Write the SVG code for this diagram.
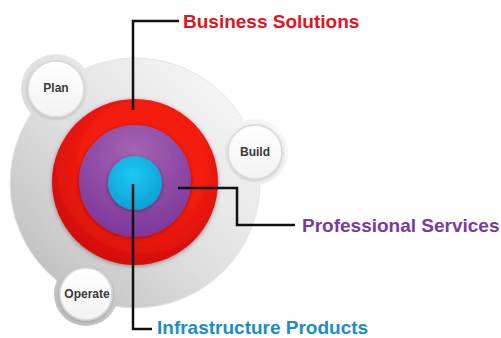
<svg xmlns="http://www.w3.org/2000/svg" width="501" height="338" viewBox="0 0 501 338">
<defs>
<linearGradient id="greyG" gradientUnits="userSpaceOnUse" x1="20" y1="290" x2="250" y2="70">
<stop offset="0" stop-color="#bcbcbc"/>
<stop offset="0.45" stop-color="#dedede"/>
<stop offset="1" stop-color="#fafafa"/>
</linearGradient>
<linearGradient id="whiteG" x1="0" y1="0" x2="0" y2="1">
<stop offset="0" stop-color="#ffffff"/>
<stop offset="1" stop-color="#f3f3f3"/>
</linearGradient>
<radialGradient id="redG" cx="0.55" cy="0.4" r="0.6">
<stop offset="0.6" stop-color="#f41c10"/>
<stop offset="1" stop-color="#d40d0d"/>
</radialGradient>
<radialGradient id="purpleG" cx="0.5" cy="0.25" r="0.8">
<stop offset="0" stop-color="#a564b2"/>
<stop offset="1" stop-color="#7a349a"/>
</radialGradient>
<radialGradient id="cyanG" cx="0.45" cy="0.35" r="0.7">
<stop offset="0" stop-color="#1ec8f2"/>
<stop offset="1" stop-color="#0a9fd6"/>
</radialGradient>
<filter id="sh" x="-20%" y="-20%" width="140%" height="140%">
<feDropShadow dx="0" dy="1" stdDeviation="2" flood-color="#000" flood-opacity="0.35"/>
</filter>
<filter id="shs" x="-20%" y="-20%" width="140%" height="140%">
<feDropShadow dx="0" dy="1" stdDeviation="1.5" flood-color="#000" flood-opacity="0.2"/>
</filter>
</defs>
<style>
.lbl{font-family:"Liberation Sans",Arial,sans-serif;font-weight:bold;font-size:19px}
.small{font-family:"Liberation Sans",Arial,sans-serif;font-weight:bold;font-size:12px;fill:#3a3a3a;text-anchor:middle}
.conn{fill:none;stroke:#111;stroke-width:2.5}
.grey{fill:url(#greyG)}
.inner{fill:url(#whiteG);stroke:#d8d8d8;stroke-width:1.5}
</style>
<rect width="501" height="338" fill="#ffffff"/>
<g id="base">
<circle class="grey" cx="135" cy="183" r="125" stroke="#e6e6e6" stroke-width="1"/>
<circle class="grey" cx="56" cy="89" r="35"/>
<circle class="grey" cx="255" cy="152" r="33"/>
<circle class="grey" cx="86" cy="294" r="32"/>
</g>
<g id="plan">
<circle class="inner" cx="56" cy="89" r="28" filter="url(#shs)"/>
<text class="small" x="56" y="92">Plan</text>
</g>
<g id="build">
<circle class="inner" cx="255" cy="152" r="27" filter="url(#shs)"/>
<text class="small" x="255" y="156">Build</text>
</g>
<g id="operate">
<circle class="inner" cx="86" cy="294" r="26" filter="url(#shs)"/>
<text class="small" x="87" y="298">Operate</text>
</g>
<g id="business-solutions">
<circle cx="135" cy="182" r="83" fill="url(#redG)" filter="url(#sh)"/>
<text class="lbl" x="183" y="28" fill="#e0141e">Business Solutions</text>
</g>
<g id="professional-services">
<circle cx="135" cy="181" r="56" fill="url(#purpleG)" filter="url(#sh)"/>
<text class="lbl" x="302" y="232" fill="#7a3aa2">Professional Services</text>
</g>
<g id="infrastructure-products">
<circle cx="135" cy="183" r="27" fill="url(#cyanG)" filter="url(#sh)"/>
<text class="lbl" x="157" y="334" fill="#1a8ec4">Infrastructure Products</text>
</g>
<g id="connectors">
<polyline class="conn" points="133,110 133,21 179,21"/>
<polyline class="conn" points="178,188 237,188 237,225 295,225"/>
<polyline class="conn" points="133,184 133,329 152,329"/>
</g>
</svg>
